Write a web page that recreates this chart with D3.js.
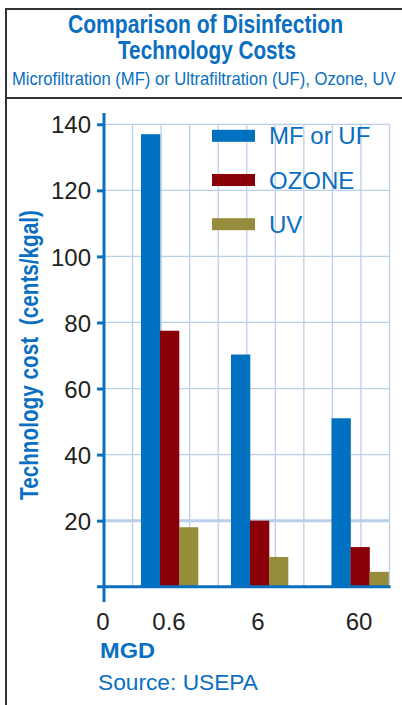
<!DOCTYPE html>
<html>
<head>
<meta charset="utf-8">
<script src="https://cdn.jsdelivr.net/npm/d3@7"></script>
<style>
    body { margin: 0; background: #fff; }
    text { font-family: "Liberation Sans", Arial, Helvetica, sans-serif; }
</style>
</head>
<body>
<div id="chart-area"></div>
<script>
// data
var categories = ["0.6", "6", "60"];
var seriesNames = ["MF or UF", "OZONE", "UV"];
var mfValues = [137, 70.3, 51];
var ozoneValues = [77.5, 20, 12];
var uvValues = [18, 9, 4.5];
var xTickLabels = ["0", "0.6", "6", "60"];
var yTicks = [20, 40, 60, 80, 100, 120, 140];

var seriesValues = [mfValues, ozoneValues, uvValues];
var colors = ["#0070c0", "#8b0008", "#958c3c"];
var blue = "#0a6fc0";

var width = 402, height = 705;

var svg = d3.select("#chart-area").append("svg")
    .attr("width", width)
    .attr("height", height);

// frame
svg.append("line").attr("x1", 6).attr("x2", width).attr("y1", 9).attr("y2", 9)
    .attr("stroke", "#333").attr("stroke-width", 2);
svg.append("line").attr("x1", 6).attr("x2", width).attr("y1", 98).attr("y2", 98)
    .attr("stroke", "#333").attr("stroke-width", 2);
svg.append("line").attr("x1", 6).attr("x2", 6).attr("y1", 8).attr("y2", height)
    .attr("stroke", "#333").attr("stroke-width", 2);

// titles
svg.append("text").attr("x", 205.5).attr("y", 33)
    .attr("text-anchor", "middle").attr("font-size", 25).attr("font-weight", "bold")
    .attr("fill", blue).attr("textLength", 275).attr("lengthAdjust", "spacingAndGlyphs")
    .text("Comparison of Disinfection");
svg.append("text").attr("x", 207).attr("y", 59)
    .attr("text-anchor", "middle").attr("font-size", 25).attr("font-weight", "bold")
    .attr("fill", blue).attr("textLength", 178).attr("lengthAdjust", "spacingAndGlyphs")
    .text("Technology Costs");

// subtitle squeezed with a horizontal scale so it fits 12..396
var sub = svg.append("text")
    .attr("font-size", 17.5)
    .attr("fill", blue)
    .text("Microfiltration (MF) or Ultrafiltration (UF), Ozone, UV");
var subLen = sub.node().getComputedTextLength();
sub.attr("transform", "translate(12,85) scale(" + (384 / subLen) + ",1)");

// scales
var y = d3.scaleLinear()
    .domain([0, 140])
    .range([586.7, 124.3]);

var gridLeft = 104, gridRight = 389.5;
var xGroup = d3.scaleOrdinal()
    .domain(categories)
    .range([169.5, 259.5, 360]);

var xInner = d3.scaleBand()
    .domain(seriesNames)
    .range([-28.5, 28.5]);

var xTick = d3.scaleOrdinal()
    .domain(xTickLabels)
    .range([103, 169, 258, 359]);

// grid
var grid = svg.append("g").attr("class", "grid");
var vCols = d3.range(1, 11).map(function(k) { return gridLeft + k * (gridRight - gridLeft) / 10; });
grid.selectAll("line.v")
    .data(vCols)
    .enter().append("line")
    .attr("class", "v")
    .attr("x1", function(d) { return d; })
    .attr("x2", function(d) { return d; })
    .attr("y1", y(140))
    .attr("y2", y(0))
    .attr("stroke", "#bccfea")
    .attr("stroke-width", 1.3);
grid.selectAll("line.h")
    .data(yTicks)
    .enter().append("line")
    .attr("class", "h")
    .attr("x1", gridLeft)
    .attr("x2", gridRight)
    .attr("y1", function(d) { return y(d); })
    .attr("y2", function(d) { return y(d); })
    .attr("stroke", "#bccfea")
    .attr("stroke-width", function(d) { return d === 20 ? 3 : 1.3; });

// bars
var barData = [];
categories.forEach(function(c, i) {
    seriesNames.forEach(function(s, j) {
        barData.push({cat: c, series: s, value: seriesValues[j][i], color: colors[j]});
    });
});

svg.append("g").selectAll("rect")
    .data(barData)
    .enter().append("rect")
    .attr("x", function(d) { return xGroup(d.cat) + xInner(d.series); })
    .attr("width", xInner.bandwidth() + 0.3)
    .attr("y", function(d) { return y(d.value); })
    .attr("height", function(d) { return y(0) - y(d.value); })
    .attr("fill", function(d) { return d.color; });

// y axis
var yAxis = d3.axisLeft(y)
    .tickValues(yTicks)
    .tickSize(7)
    .tickPadding(6)
    .tickFormat(d3.format("d"));

var yG = svg.append("g")
    .attr("transform", "translate(" + gridLeft + ",0)")
    .call(yAxis);
yG.select(".domain").remove();
yG.selectAll(".tick line").attr("stroke", blue).attr("stroke-width", 3);
yG.selectAll(".tick text")
    .attr("fill", "#231f20")
    .attr("font-size", 24)
    .attr("dy", "0.36em")
    .style("font-family", "'Liberation Sans', Arial, sans-serif");

svg.append("line")
    .attr("x1", gridLeft).attr("x2", gridLeft)
    .attr("y1", 113).attr("y2", 602)
    .attr("stroke", blue).attr("stroke-width", 3);

// x axis
svg.append("line")
    .attr("x1", 97).attr("x2", gridRight + 1)
    .attr("y1", y(0)).attr("y2", y(0))
    .attr("stroke", blue).attr("stroke-width", 3);

svg.append("g").selectAll("text")
    .data(xTickLabels)
    .enter().append("text")
    .attr("x", function(d) { return xTick(d); })
    .attr("y", 630)
    .attr("text-anchor", "middle")
    .attr("font-size", 24)
    .attr("fill", "#231f20")
    .text(function(d) { return d; });

svg.append("text").attr("x", 100).attr("y", 658)
    .attr("font-size", 22).attr("font-weight", "bold").attr("fill", blue)
    .attr("textLength", 55).attr("lengthAdjust", "spacingAndGlyphs")
    .text("MGD");
svg.append("text").attr("x", 98).attr("y", 690)
    .attr("font-size", 22).attr("fill", blue)
    .attr("textLength", 160).attr("lengthAdjust", "spacingAndGlyphs")
    .text("Source: USEPA");

// y title
svg.append("text")
    .attr("transform", "translate(38,355) rotate(-90)")
    .attr("text-anchor", "middle")
    .attr("font-size", 25).attr("font-weight", "bold").attr("fill", blue)
    .attr("textLength", 290).attr("lengthAdjust", "spacingAndGlyphs")
    .attr("xml:space", "preserve")
    .style("white-space", "pre")
    .text("Technology cost  (cents/kgal)");

// legend
var legend = svg.append("g").selectAll("g")
    .data(seriesNames)
    .enter().append("g")
    .attr("transform", function(d, i) { return "translate(212," + (144.3 + i * 44.2) + ")"; });
legend.append("rect")
    .attr("x", 0).attr("y", -14.5)
    .attr("width", 43).attr("height", 12)
    .attr("fill", function(d, i) { return colors[i]; });
legend.append("text")
    .attr("x", 57).attr("y", 0)
    .attr("font-size", 24).attr("fill", blue)
    .text(function(d) { return d; });
</script>
</body>
</html>
